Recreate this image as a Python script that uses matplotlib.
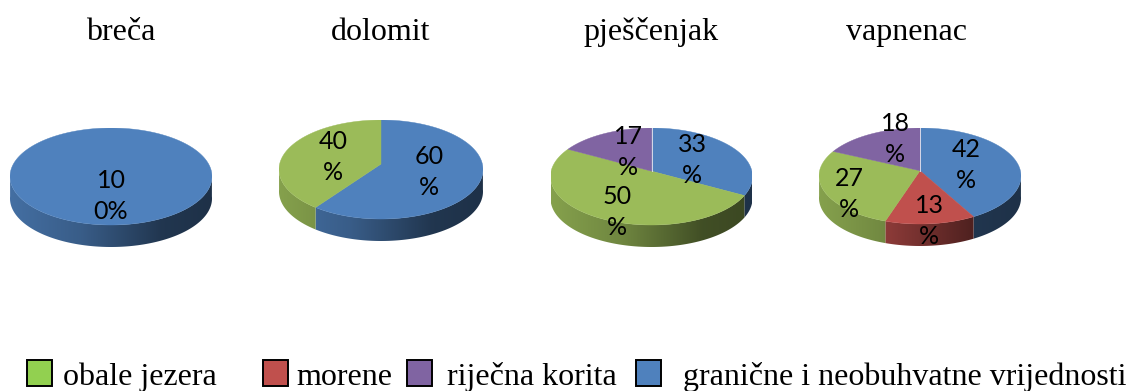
import numpy as np
import matplotlib
matplotlib.use('Agg')
import matplotlib.pyplot as plt
from matplotlib.patches import Rectangle, Polygon

rocks = ['breča', 'dolomit', 'pješčenjak', 'vapnenac']
granicne = [100, 60, 33, 42]
morene = [0, 0, 0, 13]
obale = [0, 40, 50, 27]
korita = [0, 0, 17, 18]

series_colors = ['#4f81bd', '#c0504d', '#9bbb59', '#8064a2']

W, H = 1135, 391
fig = plt.figure(figsize=(W / 100, H / 100), dpi=100)

# pixel layout of each pie: centre x, centre y, rx, ry, depth
pie_boxes = [(111, 176.5, 101, 48.5, 22),
             (381, 169.5, 102, 49.5, 22),
             (651.5, 176.5, 101, 48.5, 22),
             (920, 176, 101, 48, 22)]
title_x = [121, 381, 651, 906.5]

# label centres in pixels, clockwise from the blue slice
label_pos = [[(111, 196)],
             [(429, 172), (333, 157)],
             [(692, 160), (617, 212), (628, 152)],
             [(966, 165), (929, 221), (849, 194), (895, 139)]]

PERSP = 0.11  # slices meet above the middle of the ellipse


def warp(ang):
    # angle clockwise from top -> point on the tilted disc rim
    x, y = np.sin(ang), np.cos(ang)
    den = 1 + PERSP * y
    return x * np.sqrt(1 - PERSP ** 2) / den, (y + PERSP) / den


def side_shade(x):
    # the rim gets darker towards the right
    return np.interp(x, [-1, -0.3, 0.5, 1], [0.86, 0.72, 0.42, 0.38])


overlay = fig.add_axes([0, 0, 1, 1], zorder=5)
overlay.set_xlim(0, W)
overlay.set_ylim(H, 0)
overlay.axis('off')

grad_x = np.linspace(-1, 1, 400)

for i, (cx, cy, rx, ry, depth) in enumerate(pie_boxes):
    values = [granicne[i], morene[i], obale[i], korita[i]]
    d = depth / ry
    ax = fig.add_axes([(cx - rx) / W, (H - cy - ry - depth) / H, 2 * rx / W, (2 * ry + depth) / H])
    ax.axis('off')

    # rim: a horizontal gradient clipped to each slice's front edge
    start = 0
    for v, col in zip(values, series_colors):
        if v > 0:
            ang = np.radians(np.linspace(start, start + v * 3.6, max(2, int(v * 4))))
            xs, ys = warp(ang)
            front = ys < 0.05
            if front.sum() > 1:
                xf, yf = xs[front], ys[front]
                rgb = np.array(matplotlib.colors.to_rgb(col))
                img = (side_shade(grad_x)[:, None] * rgb)[None, :, :]
                im = ax.imshow(img, extent=(-1, 1, -1 - d, 1), aspect='auto',
                               interpolation='bilinear', zorder=1)
                clip = Polygon(np.c_[np.r_[xf, xf[::-1]], np.r_[yf, yf[::-1] - d]],
                               transform=ax.transData)
                im.set_clip_path(clip)
        start += v * 3.6

    # top of the disc
    start = 0
    for v, col in zip(values, series_colors):
        if v > 0:
            ang = np.radians(np.linspace(start, start + v * 3.6, max(2, int(v * 4))))
            xs, ys = warp(ang)
            ax.fill(np.r_[0, xs], np.r_[PERSP, ys], color=col, lw=0.3, zorder=2)
        start += v * 3.6

    if korita[i] > 0:
        ax.plot([0, 0], [PERSP, 1], color='#d8d8e8', lw=0.7, zorder=3)

    ax.set_xlim(-1, 1)
    ax.set_ylim(-1 - d, 1)

    shown = [v for v in values if v > 0]
    for v, (px, py) in zip(shown, label_pos[i]):
        s = f'{v}%'
        overlay.text(px, py, s[:2] + '\n' + s[2:], ha='center', va='center',
                     family='Lato', fontsize=18, linespacing=1.4, color='black')

    overlay.text(title_x[i], 40, rocks[i], ha='center', va='baseline',
                 family='Liberation Serif', fontsize=23, color='black')

# legend, spaced by hand like the original
legend_labels = ['obale jezera', 'morene', 'riječna korita', 'granične i neobuhvatne vrijednosti']
legend_colors = ['#92d050', '#c0504d', '#8064a2', '#4f81bd']
swatch_x = [27, 263, 407, 636]
text_x = [63, 296, 447, 683]
for lab, col, sx, tx in zip(legend_labels, legend_colors, swatch_x, text_x):
    overlay.add_patch(Rectangle((sx, 360), 25, 26, facecolor=col, edgecolor='black', linewidth=1.4))
    overlay.text(tx, 385, lab, ha='left', va='baseline',
                 family='Liberation Serif', fontsize=23, color='black')

fig.savefig('out.png', dpi=100)
